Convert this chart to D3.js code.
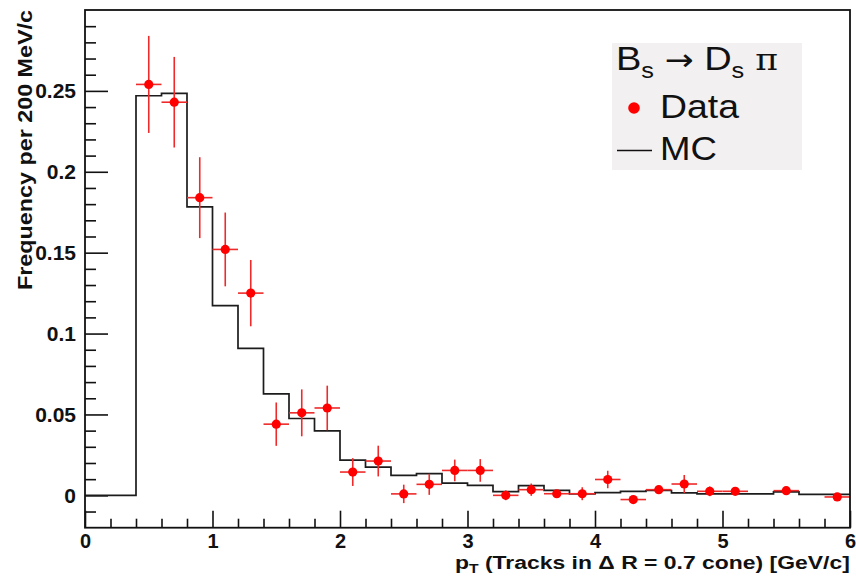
<!DOCTYPE html>
<html>
<head>
<meta charset="utf-8">
<script src="https://cdn.jsdelivr.net/npm/d3@7"></script>
<style>
  html, body { margin: 0; padding: 0; background: #fff; }
  svg { display: block; }
  text { font-family: "Liberation Sans", Arial, Helvetica, sans-serif; }
</style>
</head>
<body>
<svg id="chart" width="856" height="580"></svg>
<script>
// ---- data ----
const binEdges = [0,0.2,0.4,0.6,0.8,1.0,1.2,1.4,1.6,1.8,2.0,2.2,2.4,2.6,2.8,3.0,
                  3.2,3.4,3.6,3.8,4.0,4.2,4.4,4.6,4.8,5.0,5.2,5.4,5.6,5.8,6.0];
const mcValues = [0,0,0.2470,0.2485,0.1783,0.1173,0.0908,0.0627,0.0475,0.0399,
                  0.0218,0.0175,0.0123,0.0134,0.0076,0.0062,0.0023,0.0060,0.0031,0.0009,
                  0.0017,0.0025,0.0030,0.0015,0.0009,0.0009,0.0009,0.0021,0.0006,0.0006];
const dataX   = [0.5,0.7,0.9,1.1,1.3,1.5,1.7,1.9,2.1,2.3,2.5,2.7,2.9,3.1,3.3,3.5,3.7,3.9,
                 4.1,4.3,4.5,4.7,4.9,5.1,5.5,5.9];
const dataY   = [0.254,0.243,0.184,0.152,0.125,0.044,0.051,0.054,0.0144,0.0212,0.0009,0.0068,
                 0.0154,0.0154,0.0,0.0035,0.001,0.001,0.0098,-0.0026,0.0035,0.007,0.0025,0.0025,
                 0.0029,-0.001];
const dataErr = [0.030,0.028,0.025,0.0228,0.0205,0.0134,0.0145,0.0138,0.0086,0.0095,0.0057,0.0065,
                 0.0067,0.007,0.003,0.0038,0.002,0.004,0.0054,0.002,0.002,0.0056,0.003,0.002,
                 0.002,0.002];
const xHalfWidth = 0.1;
const xTickMajor = [0,1,2,3,4,5,6];
const xTickMinor = [0.2,0.4,0.6,0.8,1.2,1.4,1.6,1.8,2.2,2.4,2.6,2.8,3.2,3.4,3.6,3.8,4.2,4.4,4.6,4.8,5.2,5.4,5.6,5.8];
const yTickMajor = [0,0.05,0.1,0.15,0.2,0.25];
const yTickMinor = [-0.01,0.01,0.02,0.03,0.04,0.06,0.07,0.08,0.09,0.11,0.12,0.13,0.14,0.16,0.17,0.18,0.19,0.21,0.22,0.23,0.24,0.26,0.27,0.28,0.29];
const yTitle = "Frequency per 200 MeV/c";
const legendTitle = ["B", "s", " ", "\u2192", " D", "s", " \u03C0"];
const legendData = "Data";
const legendMC = "MC";

// ---- layout ----
const L = 85, R = 850, T = 10, B = 527.7;
const svg = d3.select("#chart");
const x = d3.scaleLinear().domain([0, 6]).range([L, R]);
const y = d3.scaleLinear().domain([-0.02, 0.3]).range([B, T]);

// axes (ticks inward)
const gx = svg.append("g").attr("transform", `translate(0,${B})`);
gx.call(d3.axisBottom(x).tickValues(xTickMajor).tickSize(-17).tickPadding(6).tickFormat(d3.format("d")));
const gxm = svg.append("g").attr("transform", `translate(0,${B})`);
gxm.call(d3.axisBottom(x).tickValues(xTickMinor).tickSize(-9).tickFormat(""));
const gy = svg.append("g").attr("transform", `translate(${L},0)`);
gy.call(d3.axisLeft(y).tickValues(yTickMajor).tickSize(-23).tickPadding(9).tickFormat(d => String(+d.toFixed(2))));
const gym = svg.append("g").attr("transform", `translate(${L},0)`);
gym.call(d3.axisLeft(y).tickValues(yTickMinor).tickSize(-11).tickFormat(""));
[gx, gxm, gy, gym].forEach(g => {
  g.select(".domain").remove();
  g.selectAll(".tick line").attr("stroke", "#111").attr("stroke-width", 1.6);
  g.selectAll(".tick text").attr("fill", "#111").style("font-size", "21px").style("font-weight", "bold")
    .style("font-family", '"Liberation Sans", Arial, sans-serif');
});
gx.selectAll(".tick text").style("font-size", "20px");

// MC histogram
const pts = [];
mcValues.forEach((v, i) => { pts.push([binEdges[i], v]); pts.push([binEdges[i + 1], v]); });
svg.append("path")
  .attr("d", d3.line().x(d => x(d[0])).y(d => y(d[1]))(pts))
  .attr("fill", "none").attr("stroke", "#1c1c1c").attr("stroke-width", 1.7);

// Data with errors
const gd = svg.append("g");
dataX.forEach((cx, i) => {
  gd.append("line").attr("x1", x(cx - xHalfWidth)).attr("x2", x(cx + xHalfWidth))
    .attr("y1", y(dataY[i])).attr("y2", y(dataY[i]))
    .attr("stroke", "#ee2a2a").attr("stroke-width", 1.6);
  gd.append("line").attr("x1", x(cx)).attr("x2", x(cx))
    .attr("y1", y(dataY[i] - dataErr[i])).attr("y2", y(dataY[i] + dataErr[i]))
    .attr("stroke", "#ee2a2a").attr("stroke-width", 1.6);
});
gd.selectAll("circle").data(dataX).join("circle")
  .attr("cx", d => x(d)).attr("cy", (d, i) => y(dataY[i])).attr("r", 4.6).attr("fill", "#ff0000");

// frame
svg.append("rect").attr("x", L).attr("y", T).attr("width", R - L).attr("height", B - T)
  .attr("fill", "none").attr("stroke", "#111").attr("stroke-width", 1.8);

function fitScale(textSel, targetW) {
  const w = textSel.node().getComputedTextLength();
  return targetW / w;
}

// Y title
svg.append("text")
  .attr("transform", `translate(32,10) rotate(-90)`)
  .attr("text-anchor", "end")
  .attr("textLength", 280).attr("lengthAdjust", "spacingAndGlyphs")
  .style("font-size", "21px").style("font-weight", "bold").attr("fill", "#111")
  .text(yTitle);

// X title
const gxt = svg.append("g");
const xt = gxt.append("text").attr("text-anchor", "start")
  .style("font-size", "19px").style("font-weight", "bold").attr("fill", "#111");
xt.append("tspan").text("p");
xt.append("tspan").attr("dy", 4).style("font-size", "13px").text("T");
xt.append("tspan").attr("dy", -4).text(" (Tracks in \u0394 R = 0.7 cone) [GeV/c]");
gxt.attr("transform", `translate(455,569) scale(${fitScale(xt, 395)},1)`);

// Legend
const lg = svg.append("g");
lg.append("rect").attr("x", 612).attr("y", 43).attr("width", 190).attr("height", 127).attr("fill", "#f3f0f2");
const g1 = lg.append("g");
const t1 = g1.append("text").style("font-size", "33px").attr("fill", "#111");
t1.append("tspan").text(legendTitle[0]);
t1.append("tspan").attr("dy", 8).style("font-size", "22px").text(legendTitle[1]);
t1.append("tspan").attr("dy", -8).text(legendTitle[2]);
t1.append("tspan").style("font-family", '"DejaVu Sans", sans-serif').style("font-size", "30px").text(legendTitle[3]);
t1.append("tspan").text(legendTitle[4]);
t1.append("tspan").attr("dy", 8).style("font-size", "22px").text(legendTitle[5]);
t1.append("tspan").attr("dy", -8).style("font-family", '"DejaVu Serif", serif').style("font-size", "30px").text(legendTitle[6]);
g1.attr("transform", `translate(616,70) scale(${fitScale(t1, 162)},1)`);

lg.append("circle").attr("cx", 634).attr("cy", 108).attr("r", 5.8).attr("fill", "#ff0000");
const g2 = lg.append("g");
const t2 = g2.append("text").style("font-size", "33px").attr("fill", "#111").text(legendData);
g2.attr("transform", `translate(660,118) scale(${fitScale(t2, 79)},1)`);

lg.append("line").attr("x1", 617).attr("x2", 652).attr("y1", 150.5).attr("y2", 150.5)
  .attr("stroke", "#111").attr("stroke-width", 1.7);
const g3 = lg.append("g");
const t3 = g3.append("text").style("font-size", "33px").attr("fill", "#111").text(legendMC);
g3.attr("transform", `translate(660,160) scale(${fitScale(t3, 57)},1)`);
</script>
</body>
</html>
